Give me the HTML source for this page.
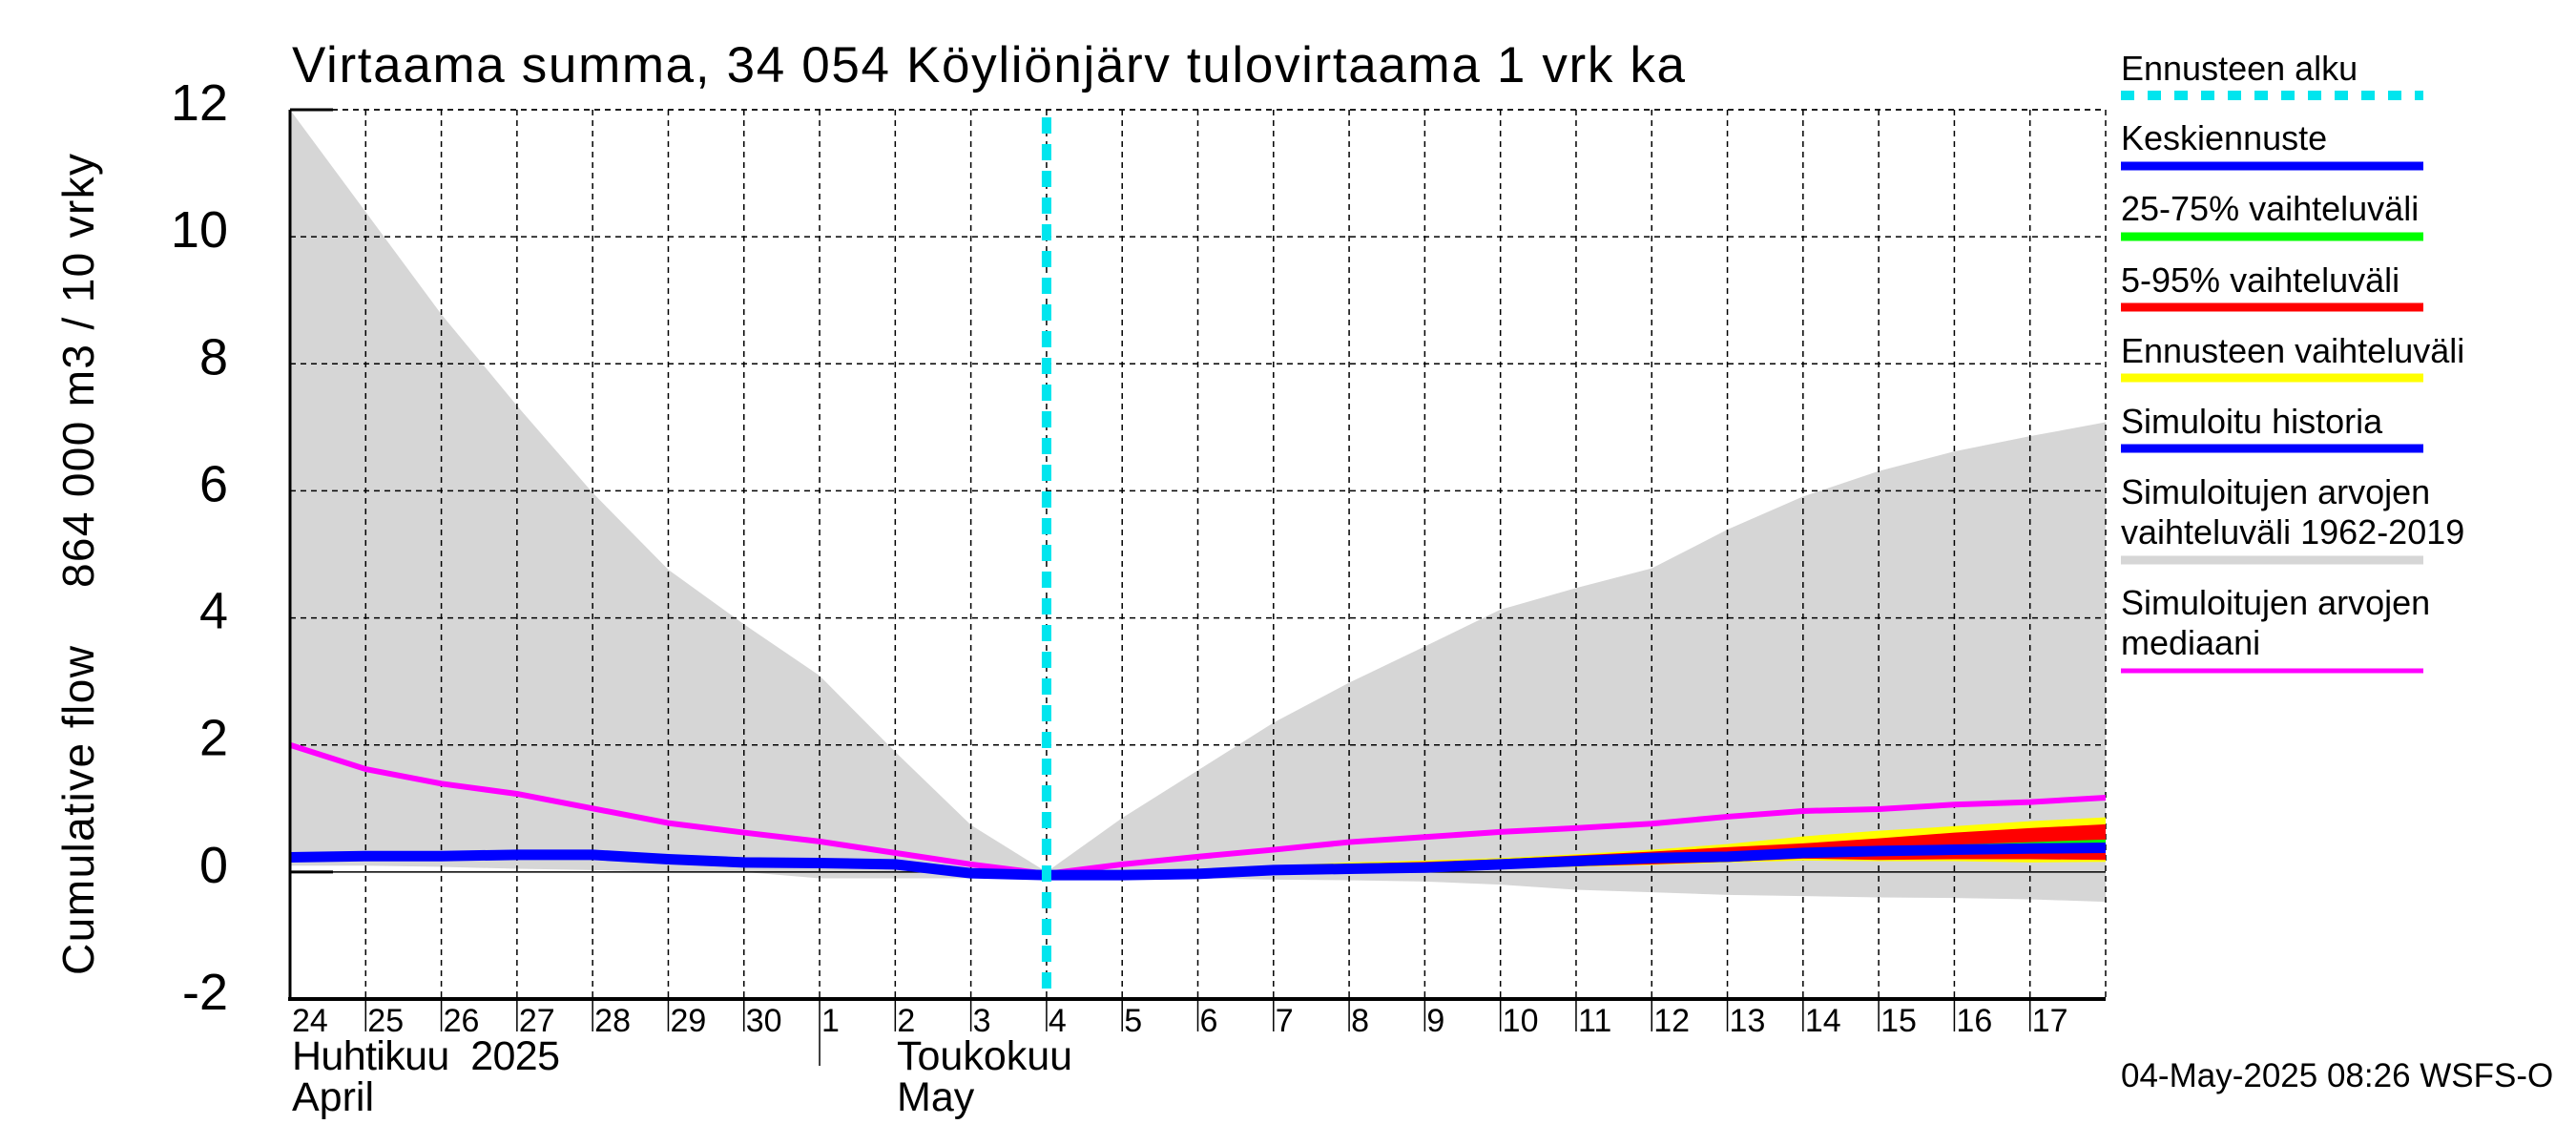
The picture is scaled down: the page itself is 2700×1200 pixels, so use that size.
<!DOCTYPE html>
<html><head><meta charset="utf-8"><style>
html,body{margin:0;padding:0;background:#fff;}
svg{display:block;font-family:"Liberation Sans",sans-serif;}
</style></head><body>
<svg id="chart" width="2700" height="1200" viewBox="0 0 2700 1200" xmlns="http://www.w3.org/2000/svg">
<rect x="0" y="0" width="2700" height="1200" fill="#fff"/>
<text x="306" y="86" font-size="53" textLength="1460">Virtaama summa, 34 054 Köyliönjärv tulovirtaama 1 vrk ka</text>
<g id="plot"></g>
<g id="axes"></g>
<text transform="translate(98,1022) rotate(-90)" font-size="46" textLength="345">Cumulative flow</text>
<text transform="translate(98,616) rotate(-90)" font-size="46" textLength="455">864 000 m3 / 10 vrky</text>
<text x="306" y="1121" font-size="43" textLength="281">Huhtikuu&#160; 2025</text>
<text x="306" y="1164" font-size="43">April</text>
<text x="940" y="1121" font-size="43">Toukokuu</text>
<text x="940" y="1164" font-size="43">May</text>
<text x="2223" y="1139" font-size="35">04-May-2025 08:26 WSFS-O</text>
<g id="legend"></g>
</svg>
<script>
const dayLabels = ["24","25","26","27","28","29","30","1","2","3","4","5","6","7","8","9","10","11","12","13","14","15","16","17"];
const yTicks = [-2,0,2,4,6,8,10,12];
const grayHi = [12,10.39,8.78,7.34,5.97,4.76,3.9,3.09,1.89,0.74,0,0.85,1.6,2.35,2.98,3.55,4.13,4.47,4.78,5.39,5.91,6.31,6.62,6.86,7.08];
const grayLo = [0.1,0.1,0.08,0.05,0.03,0,0,-0.1,-0.1,-0.1,-0.05,-0.1,-0.1,-0.12,-0.13,-0.15,-0.2,-0.28,-0.32,-0.36,-0.38,-0.4,-0.41,-0.43,-0.47];
const median = [2.0,1.62,1.39,1.23,1.0,0.77,0.62,0.48,0.3,0.12,-0.03,0.12,0.24,0.35,0.47,0.55,0.63,0.69,0.76,0.87,0.96,0.99,1.06,1.1,1.17];
const history = [0.23,0.25,0.25,0.27,0.27,0.2,0.15,0.14,0.12,-0.02,-0.05];
const yellowHi = [-0.05,-0.03,0.02,0.1,0.15,0.18,0.22,0.28,0.35,0.44,0.56,0.65,0.72,0.8,0.86];
const redHi = [-0.05,-0.03,0.02,0.08,0.13,0.16,0.2,0.26,0.32,0.39,0.45,0.53,0.62,0.69,0.75];
const greenHi = [-0.05,-0.04,0.0,0.05,0.08,0.1,0.14,0.18,0.23,0.28,0.34,0.38,0.43,0.47,0.51];
const greenLo = [-0.05,-0.05,-0.02,0.02,0.04,0.06,0.1,0.13,0.17,0.21,0.25,0.28,0.3,0.32,0.35];
const redLo = [-0.05,-0.06,-0.04,-0.01,0.01,0.03,0.06,0.09,0.12,0.16,0.21,0.19,0.2,0.2,0.19];
const yellowLo = [-0.06,-0.07,-0.05,-0.02,0.0,0.02,0.05,0.08,0.11,0.15,0.18,0.17,0.17,0.15,0.16];
const forecast = [-0.05,-0.05,-0.03,0.03,0.05,0.07,0.12,0.17,0.22,0.24,0.3,0.33,0.35,0.37,0.38];
const forecastStart = 10;

const NS = "http://www.w3.org/2000/svg";
const X0 = 304, X1 = 2207, Y0 = 1047, Y1 = 115, DAYS = 24, VMIN = -2, VMAX = 12;
const xs = t => X0 + (X1 - X0) * t / DAYS;
const ys = v => Y0 - (Y0 - Y1) * (v - VMIN) / (VMAX - VMIN);
function mk(tag, attrs, parent) { const e = document.createElementNS(NS, tag); for (const k in attrs) e.setAttribute(k, attrs[k]); parent.appendChild(e); return e; }
const plot = document.getElementById('plot'), axes = document.getElementById('axes'), legend = document.getElementById('legend');
function band(hi, lo, off, color, name) {
  let d = hi.map((v, i) => (i ? 'L' : 'M') + xs(i + off) + ' ' + ys(v)).join(' ');
  for (let i = lo.length - 1; i >= 0; i--) d += ' L' + xs(i + off) + ' ' + ys(lo[i]);
  const p = mk('path', { d: d + ' Z', fill: color }, plot);
  
  
}
function line(vals, off, color, w, name) {
  const p = mk('polyline', { points: vals.map((v, i) => xs(i + off) + ',' + ys(v)).join(' '), fill: 'none', stroke: color, 'stroke-width': w, 'stroke-linejoin': 'round' }, plot);
  
  
}
band(grayHi, grayLo, 0, '#d6d6d6', 'historical-range-band');
for (let t = 1; t <= DAYS; t++) {
  const g = mk('line', { x1: xs(t), x2: xs(t), y1: Y1, y2: Y0, stroke: '#000', 'stroke-width': 1.5, 'stroke-dasharray': '6,5' }, plot);
  
  
}
yTicks.forEach(v => {
  if (v === VMIN) return;
  const g = mk('line', { x1: X0, x2: X1, y1: ys(v), y2: ys(v), stroke: '#000', 'stroke-width': 1.5, 'stroke-dasharray': v === 0 ? 'none' : '6,5' }, plot);
  
  
});
band(yellowHi, yellowLo, forecastStart, '#ffff00', 'forecast-range-band');
band(redHi, redLo, forecastStart, '#ff0000', 'band-5-95');
band(greenHi, greenLo, forecastStart, '#00ff00', 'band-25-75');
line(median, 0, '#ff00ff', 6, 'median-line');
line(history, 0, '#0000ff', 11, 'simulated-history-line');
line(forecast, forecastStart, '#0000ff', 11, 'mean-forecast-line');
const fl = mk('line', { x1: xs(forecastStart), x2: xs(forecastStart), y1: Y1 + 8, y2: Y0, stroke: '#00e5ee', 'stroke-width': 10, 'stroke-dasharray': '17,11' }, plot);


mk('line', { x1: X0, x2: X0, y1: Y1, y2: Y0, stroke: '#000', 'stroke-width': 3 }, axes);
mk('line', { x1: X0 - 2, x2: X1, y1: Y0, y2: Y0, stroke: '#000', 'stroke-width': 4 }, axes);
mk('line', { x1: X0, x2: X1, y1: Y1, y2: Y1, stroke: '#000', 'stroke-width': 1.5, 'stroke-dasharray': '6,5' }, axes);
[12, 0].forEach(v => mk('line', { x1: X0, x2: X0 + 45, y1: ys(v), y2: ys(v), stroke: '#000', 'stroke-width': 3 }, axes));
yTicks.forEach(v => {
  const t = mk('text', { x: 239, y: ys(v) + 11, 'font-size': 54, 'text-anchor': 'end' }, axes);
  t.textContent = String(v);
  
  
});
dayLabels.forEach((lab, i) => {
  if (i > 0) mk('line', { x1: xs(i), x2: xs(i), y1: Y0, y2: i === 7 ? 1117 : 1081, stroke: '#000', 'stroke-width': 1.5 }, axes);
  const t = mk('text', { x: xs(i) + 2, y: 1081, 'font-size': 34 }, axes);
  t.textContent = lab;
  
  
});
const legendItems = [
  { lines: ['Ennusteen alku'], color: '#00e5ee', w: 10, dash: '14,14', by: 84, ly: 100, name: 'legend-forecast-start' },
  { lines: ['Keskiennuste'], color: '#0000ff', w: 9, by: 157, ly: 174, name: 'legend-mean-forecast' },
  { lines: ['25-75% vaihteluväli'], color: '#00ff00', w: 9, by: 231, ly: 248, name: 'legend-25-75' },
  { lines: ['5-95% vaihteluväli'], color: '#ff0000', w: 9, by: 306, ly: 322, name: 'legend-5-95' },
  { lines: ['Ennusteen vaihteluväli'], color: '#ffff00', w: 9, by: 380, ly: 396, name: 'legend-forecast-range' },
  { lines: ['Simuloitu historia'], color: '#0000ff', w: 9, by: 454, ly: 470, name: 'legend-simulated-history' },
  { lines: ['Simuloitujen arvojen', 'vaihteluväli 1962-2019'], color: '#d6d6d6', w: 9, by: 528, ly: 587, name: 'legend-historical-range' },
  { lines: ['Simuloitujen arvojen', 'mediaani'], color: '#ff00ff', w: 5, by: 644, ly: 703, name: 'legend-median' }
];
legendItems.forEach(it => {
  const g = mk('g', {}, legend);
  
  
  it.lines.forEach((s, k) => { const t = mk('text', { x: 2223, y: it.by + k * 42, 'font-size': 36 }, g); t.textContent = s; });
  const a = { x1: 2223, x2: 2540, y1: it.ly, y2: it.ly, stroke: it.color, 'stroke-width': it.w };
  if (it.dash) a['stroke-dasharray'] = it.dash;
  mk('line', a, g);
});
</script>
</body></html>
